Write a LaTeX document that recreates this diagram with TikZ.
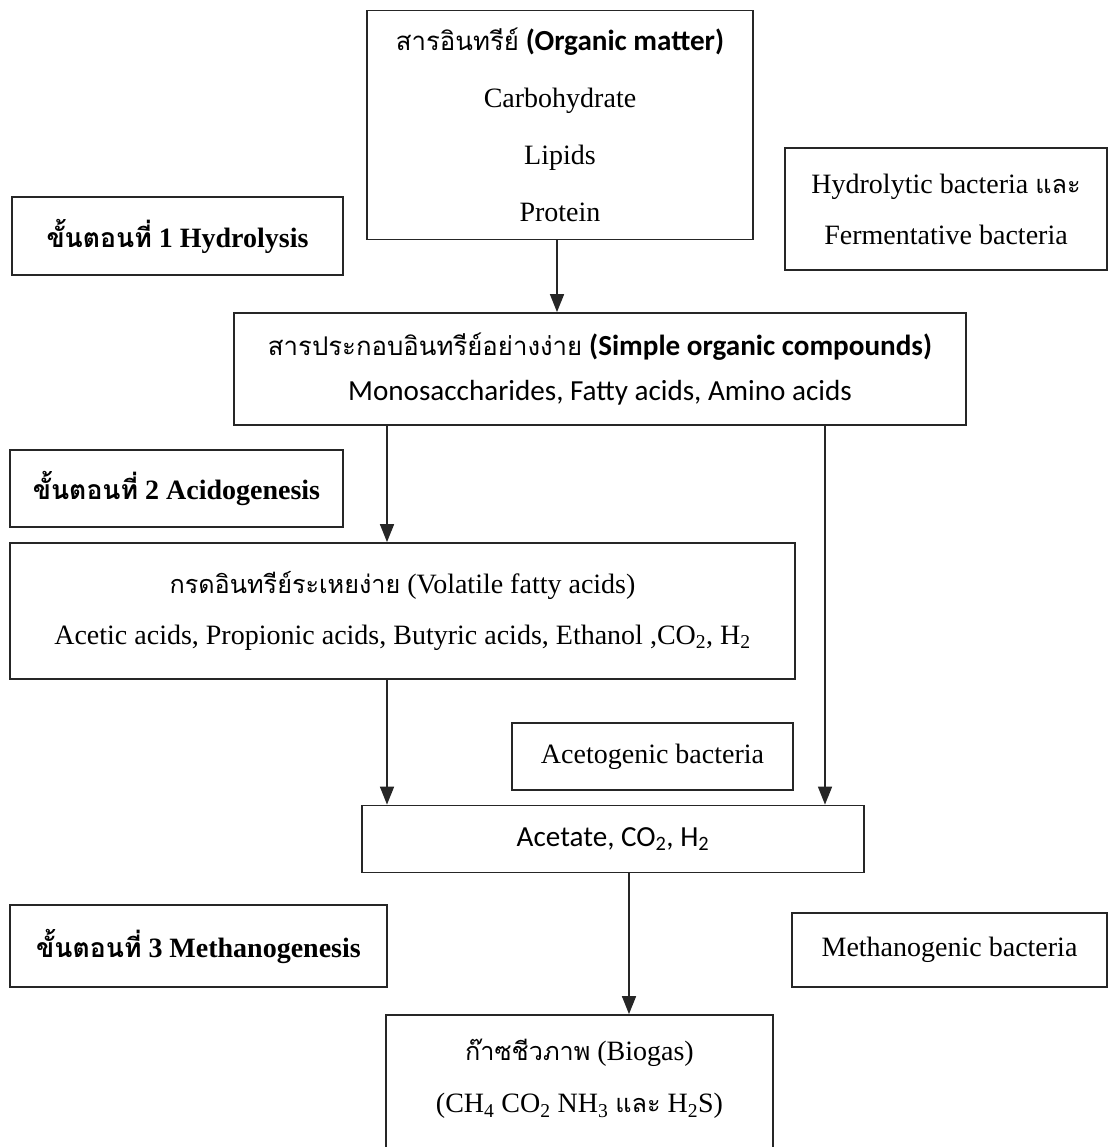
\documentclass[tikz,border=0pt]{standalone}
\usepackage{fontspec}
\setmainfont{Liberation Serif}
\newfontfamily\calibri[Scale=1.04]{Carlito}
\newfontfamily\sansthai[Script=Thai,Scale=0.92]{Loma}
\newfontfamily\serifthai[Script=Thai,Scale=0.9]{Loma}
\newfontfamily\stepthai[Script=Thai,Scale=0.95]{Loma}
\usetikzlibrary{arrows.meta}
\newcommand{\thC}[1]{{\sansthai #1}}
\newcommand{\thS}[1]{{\serifthai #1}}
\newcommand{\thStep}[1]{{\stepthai #1}}

\tikzset{
  stage box/.style={draw=black!85, line width=1.8pt, rectangle,
    inner sep=0pt, align=center, font=\fontsize{28}{51}\selectfont},
  step label/.style={stage box, font=\fontsize{28}{34}\selectfont\bfseries},
  flow line/.style={draw=black!85, line width=1.6pt,
    -{Triangle[width=14pt,length=18pt]}},
}

\begin{document}
\begin{tikzpicture}[x=1pt,y=-1pt]
      \clip (0,0) rectangle (1110,1147);
      \fill[white] (0,0) rectangle (1110,1147);

      % columns of the vertical connectors
      \coordinate (colOrganic) at (557,0); \coordinate (colAcid) at
      (387,0); \coordinate (colDirect) at (825,0); \coordinate
      (colGas) at (629,0);

      \node (organic) [stage box, minimum width=386pt, minimum
      height=229pt, font=\fontsize{28}{57}\selectfont] at (560,125)
      {\thC{สารอินทรีย์} {\calibri\bfseries (Organic matter)}\\
        Carbohydrate\\ Lipids\\ Protein};
      \node (hydrolysis) [step label, minimum width=331pt, minimum
      height=78pt] at (177.5,236) {\thStep{ขั้นตอนที่} 1 Hydrolysis};
      \node (hydroBacteria) [stage box, minimum width=322pt, minimum
      height=122pt] at (946,209) {Hydrolytic bacteria \thS{และ}\\
        Fermentative bacteria};

      \node (simple) [stage box, minimum width=732pt, minimum
      height=112pt, font=\fontsize{28}{45}\selectfont] at (600,369)
      {\thC{สารประกอบอินทรีย์อย่างง่าย} {\calibri\bfseries (Simple organic
          compounds)}\\ {\calibri Monosaccharides, Fatty acids, Amino
          acids}};

      \node (acidogenesis) [step label, minimum width=333pt, minimum
      height=77pt] at (176.5,488.5) {\thStep{ขั้นตอนที่} 2 Acidogenesis};
      \node (volatile) [stage box, minimum width=785pt, minimum
      height=136pt] at (402.5,611) {\thS{กรดอินทรีย์ระเหยง่าย} (Volatile
        fatty acids)\\ Acetic acids, Propionic acids, Butyric acids,
        Ethanol ,CO\textsubscript{2}, H\textsubscript{2}};

      \node (acetoBacteria) [stage box, minimum width=281pt, minimum
      height=67pt] at (652.5,756.5) {Acetogenic bacteria};
      \node (acetate) [stage box, minimum width=502pt, minimum
      height=67pt] at (613,839) {\calibri Acetate,
        CO\textsubscript{2}, H\textsubscript{2}};

      \node (methanogenesis) [step label, minimum width=377pt, minimum
      height=82pt] at (198.5,946) {\thStep{ขั้นตอนที่} 3 Methanogenesis};
      \node (methanoBacteria) [stage box, minimum width=315pt, minimum
      height=74pt] at (949.5,950) {Methanogenic bacteria};

      % runs on below the page edge
      \node (biogas) [stage box, minimum width=387pt, minimum
      height=174pt, font=\fontsize{28}{52}\selectfont] at (579.5,1102)
      {\thS{ก๊าซชีวภาพ} (Biogas)\\ (CH\textsubscript{4}
        CO\textsubscript{2} NH\textsubscript{3} \thS{และ}
        H\textsubscript{2}S)\\ \mbox{}};

      \draw[flow line] (organic.south -| colOrganic) -- (simple.north
      -| colOrganic);
      \draw[flow line] (simple.south -| colAcid) -- (volatile.north -|
      colAcid);
      \draw[flow line] (simple.south -| colDirect) -- (acetate.north
      -| colDirect);
      \draw[flow line] (volatile.south -| colAcid) -- (acetate.north
      -| colAcid);
      \draw[flow line] (acetate.south -| colGas) -- (biogas.north -|
      colGas);
    \end{tikzpicture}
\end{document}
